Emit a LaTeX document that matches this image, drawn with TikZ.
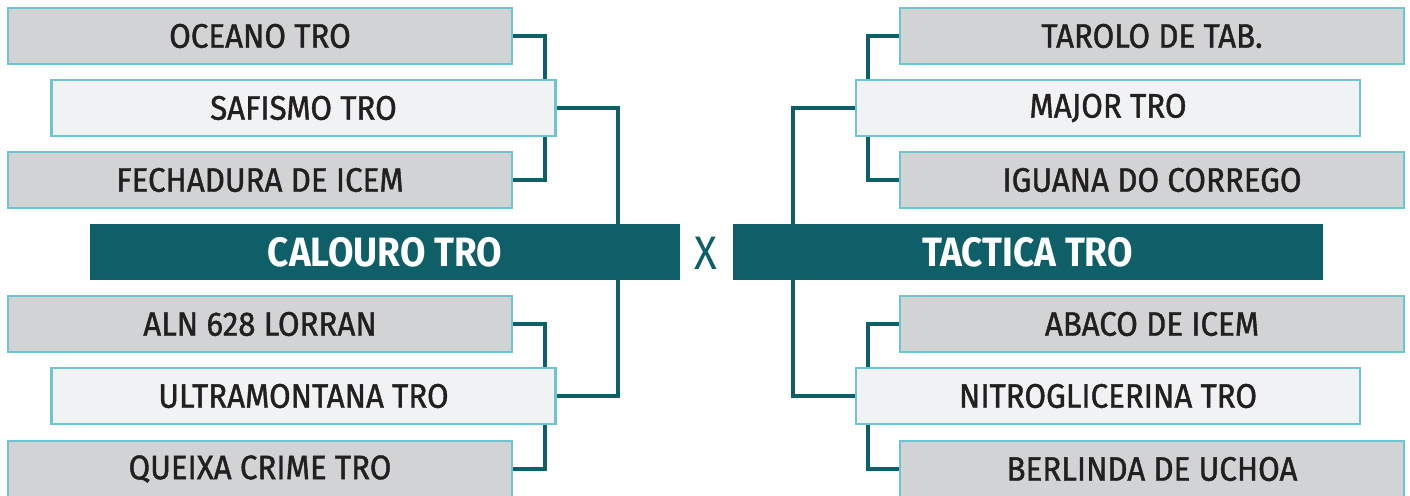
\documentclass[tikz,border=0pt]{standalone}
\usepackage{fontspec}
\setmainfont{Fira Sans}[FakeStretch=0.9]
\newfontfamily\boxfont{Fira Sans}[FakeStretch=0.92, FakeBold=1.2]
\newfontfamily\barfont{Fira Sans}[FakeStretch=0.9, UprightFont=* Bold]
\definecolor{teal}{HTML}{0F5F69}
\definecolor{boxgray}{HTML}{D1D3D4}
\definecolor{boxlight}{HTML}{F1F2F4}
\definecolor{boxedge}{HTML}{6CC5D1}
\definecolor{ink}{HTML}{231F20}
\begin{document}
\begin{tikzpicture}[x=1pt,y=-1pt,
  team/.style={draw=boxedge, line width=2.6pt, fill=boxgray, minimum width=504pt,
    minimum height=56pt, inner sep=0pt, text=ink, font=\boxfont\fontsize{34}{34}\selectfont},
  winner/.style={team, fill=boxlight},
  finalist/.style={fill=teal, minimum width=590pt, minimum height=56pt, inner sep=0pt,
    text=white, font=\barfont\fontsize{41}{41}\selectfont},
  conn/.style={draw=teal, line width=4pt}]
\useasboundingbox (0,0) rectangle (1410,495);
\coordinate (lx) at (618,0);
\coordinate (rx) at (793,0);
% left side nodes
\node[team] (oceano) at (260,36) {OCEANO TRO};
\node[winner] (safismo) at (303.5,108) {SAFISMO TRO};
\node[team] (fechadura) at (260,180) {FECHADURA DE ICEM};
\node[team] (aln) at (260,324) {ALN 628 LORRAN};
\node[winner] (ultra) at (303.5,396) {ULTRAMONTANA TRO};
\node[team] (queixa) at (260,469) {QUEIXA CRIME TRO};
% right side nodes
\node[team] (tarolo) at (1152,36) {TAROLO DE TAB.};
\node[winner] (major) at (1108,108) {MAJOR TRO};
\node[team] (iguana) at (1152,180) {IGUANA DO CORREGO};
\node[team] (abaco) at (1152,324) {ABACO DE ICEM};
\node[winner] (nitro) at (1108,396) {NITROGLICERINA TRO};
\node[team] (berlinda) at (1152,469) {BERLINDA DE UCHOA};
% finalists
\node[finalist] (calouro) at (385,252) {CALOURO TRO};
\node[finalist] (tactica) at (1027.5,252) {TACTICA TRO};
\node[text=teal, font=\fontsize{47}{47}\selectfont, inner sep=0pt] (vs) at (706,253) {X};
% connectors
\draw[conn] (oceano.east) -| ([xshift=-12pt]safismo.north east);
\draw[conn] (fechadura.east) -| ([xshift=-12pt]safismo.south east);
\draw[conn] (aln.east) -| ([xshift=-12pt]ultra.north east);
\draw[conn] (queixa.east) -| ([xshift=-12pt]ultra.south east);
\draw[conn] (safismo.east) -| (lx |- calouro.north);
\draw[conn] (ultra.east) -| (lx |- calouro.south);
\draw[conn] (tarolo.west) -| ([xshift=13pt]major.north west);
\draw[conn] (iguana.west) -| ([xshift=13pt]major.south west);
\draw[conn] (abaco.west) -| ([xshift=13pt]nitro.north west);
\draw[conn] (berlinda.west) -| ([xshift=13pt]nitro.south west);
\draw[conn] (major.west) -| (rx |- tactica.north);
\draw[conn] (nitro.west) -| (rx |- tactica.south);
\end{tikzpicture}
\end{document}
